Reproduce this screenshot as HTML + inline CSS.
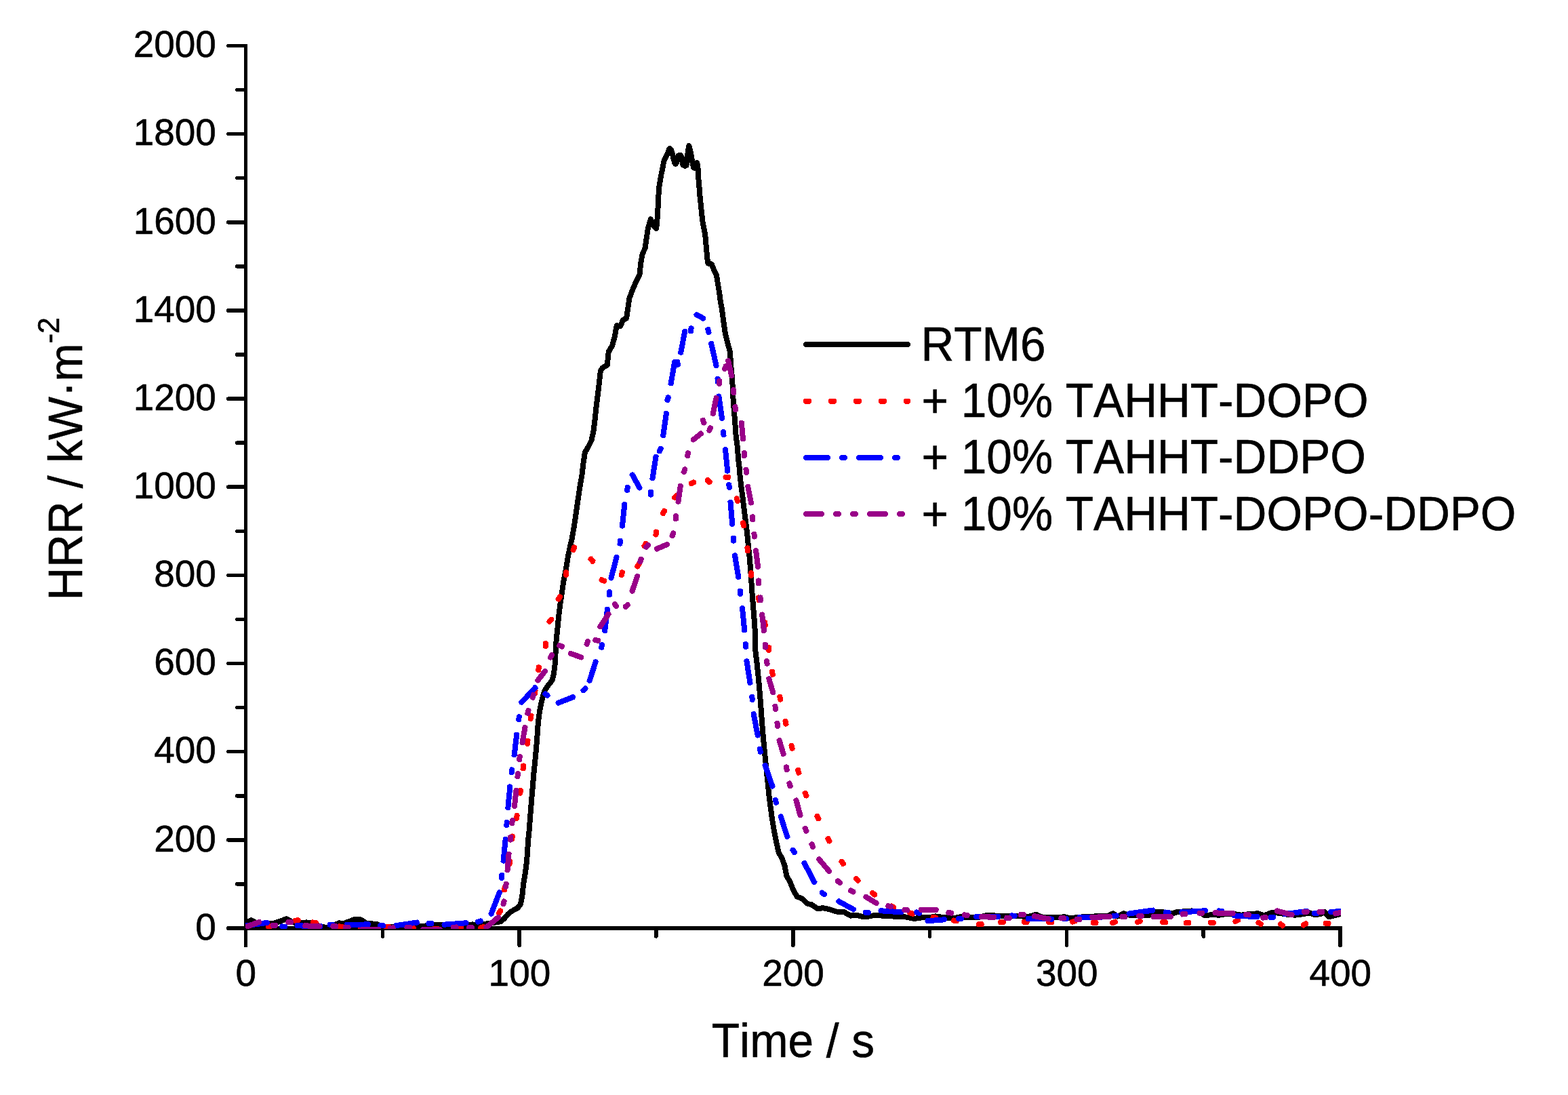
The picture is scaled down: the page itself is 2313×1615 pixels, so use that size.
<!DOCTYPE html>
<html lang="en">
<head>
<meta charset="utf-8">
<title>HRR vs Time</title>
<style>
html,body{margin:0;padding:0;background:#fff;}
body{width:2313px;height:1615px;}
svg{display:block;}
text{font-family:"Liberation Sans",sans-serif;fill:#000;stroke:#000;stroke-width:0.6px;font-kerning:none;}
.tick{font-size:55px;}
.lab{font-size:68px;}
.ax{stroke:#000;stroke-width:5.5;stroke-linecap:round;fill:none;}
.dat path, .dat polyline, .leg line{fill:none;stroke-width:8.0;stroke-linecap:round;stroke-linejoin:round;}
.dat path.bt, .leg line.bt{stroke-linecap:butt;}
</style>
</head>
<body>
<svg width="2313" height="1615" viewBox="0 0 2313 1615">
<rect width="2313" height="1615" fill="#fff"/>
<defs><clipPath id="plot"><rect x="362" y="60" width="1616" height="1310"/></clipPath></defs>

<g class="ax" shape-rendering="crispEdges">
<path d="M362.5 64.75 L362.5 1397 M362.5 1369.0 L1979.75 1369.0" stroke-linecap="butt"/>
<path d="M361.0 1369 L336.75 1369 M361.0 1303.9 L349.75 1303.9 M361.0 1238.8 L336.75 1238.8 M361.0 1173.8 L349.75 1173.8 M361.0 1108.7 L336.75 1108.7 M361.0 1043.6 L349.75 1043.6 M361.0 978.5 L336.75 978.5 M361.0 913.5 L349.75 913.5 M361.0 848.4 L336.75 848.4 M361.0 783.3 L349.75 783.3 M361.0 718.2 L336.75 718.2 M361.0 653.2 L349.75 653.2 M361.0 588.1 L336.75 588.1 M361.0 523 L349.75 523 M361.0 458 L336.75 458 M361.0 392.9 L349.75 392.9 M361.0 327.8 L336.75 327.8 M361.0 262.7 L349.75 262.7 M361.0 197.7 L336.75 197.7 M361.0 132.6 L349.75 132.6 M361.0 67.5 L336.75 67.5 M564.3 1370.5 L564.3 1381.0 M766.1 1370.5 L766.1 1394.25 M967.9 1370.5 L967.9 1381.0 M1169.8 1370.5 L1169.8 1394.25 M1371.6 1370.5 L1371.6 1381.0 M1573.4 1370.5 L1573.4 1394.25 M1775.2 1370.5 L1775.2 1381.0 M1977 1370.5 L1977 1394.25"/>
</g>
<g class="dat" clip-path="url(#plot)" shape-rendering="crispEdges">
<polyline stroke="#000" points="360.7,1361.4 365.2,1360.4 370.5,1357.1 377,1360.4 386.1,1362.1 401.8,1362.3 412.3,1359.1 422.7,1355.1 431.9,1360.4 443.6,1361.7 451.5,1360.4 460.6,1361.7 473.7,1366.9 482.8,1367.9 495.9,1363 500.5,1361.3 506.3,1362.3 522,1356.4 532.5,1356.4 540.3,1361.7 556,1363 563.8,1366.6 582.1,1366.6 599.1,1366.9 618.7,1367.9 627.9,1365.3 640.9,1364.3 651.4,1364.3 617,1366 628.7,1366 640.5,1364.3 651,1364.3 658.8,1365.3 691.5,1364.3 696.7,1363.4 703.2,1365.3 712.4,1363.4 724.1,1361.4 732,1360.4 738.5,1359.1 743.7,1354.9 749,1348.6 754.2,1344.2 763.3,1339.5 767.6,1334.2 769.8,1324.7 771.1,1314.9 772,1305.1 773.5,1295.4 775.1,1285.6 776.7,1273.4 777.8,1261.1 778.5,1248.9 779.4,1236.7 780.3,1229 781.6,1211.5 783,1194.1 784.4,1176.6 785.9,1159.1 787.3,1141.7 789.1,1124.2 790.8,1106.7 792.2,1089.3 793.4,1071.8 794.8,1057.8 796.9,1043.8 800.1,1029.9 803.1,1019.4 807.4,1012.4 814.4,1003.7 817,993.2 819,977.5 819.6,962 820.6,944.5 822.4,927.1 824.1,909.6 826.2,892.1 828.8,874.7 831.4,857.2 834.9,839.7 837.6,822.3 840.5,808.3 843.7,794.3 846.8,776.9 849.4,759.4 852.4,738.4 855.5,717.5 858.5,700.3 860.3,684.5 862.9,667.1 867.2,660.1 872.5,649.6 875.5,635.6 877.7,618.2 879.5,600.7 881.7,583.2 883.8,565.8 885.9,546.6 889.1,542.2 895.7,538.7 897.8,518.6 903.1,509.9 906.9,495.9 909.7,480.2 915.3,481 918.8,472.3 924,469.7 926.1,455.7 928.4,440 932.8,428 939.7,412.3 943.6,404.5 945,389.6 947.6,374.8 951.6,366 953.7,351.2 955.8,337.2 959.8,323.2 963.3,332 968.2,337.2 969.4,325 969.9,315.8 970.7,304 971.2,292.2 971.9,280.4 972.7,272.5 974.2,264.7 975.4,257.6 976.8,251.3 978,245 979.1,238.7 980.4,234.8 982.9,230.1 985.2,225.4 986.8,220.7 988,218.9 990,221.4 991.9,226.9 993.5,234 995.1,240.3 996.6,242 998.6,238.7 999.8,232.4 1001,229.3 1002.5,228.9 1004.5,229.3 1005.7,232.4 1006.5,238.7 1007.6,243.5 1010.4,244.9 1012.4,244.2 1013.5,237.2 1014.2,229.3 1015,221.4 1016.3,215 1018.1,221.4 1019.4,227.7 1020.6,234.8 1021.8,241.1 1023,246.6 1024.5,248 1026.5,245 1028.3,240.1 1029.3,245 1029.8,252.9 1030.2,260.7 1030.8,268.6 1031.5,276.5 1032,284.3 1032.8,292.2 1033.6,300 1034.4,307.9 1035.2,315.8 1036.7,328.5 1040.2,345.9 1041.9,365.2 1043.7,384.4 1044.5,388.7 1049.8,389.6 1053.3,398.3 1056.8,405.3 1058.5,415.8 1061.1,431.5 1062.9,445.5 1064.6,454 1067.2,473.2 1069.9,492.4 1073.4,506.4 1076.9,518.6 1078.1,537.8 1079.8,555.3 1080.9,572.8 1081.6,590.2 1083,607.7 1084.4,625.2 1085.6,642.6 1087.9,660.1 1089.1,677.6 1091.4,695 1091.4,700 1093.4,717.5 1095.7,734.9 1097.8,752.4 1100.1,769.9 1102.2,787.3 1103.9,804.8 1105.7,822.3 1107.1,839.7 1108.3,857.2 1109.5,874.7 1110.9,892.1 1112.3,909.6 1113.5,927.1 1114.4,944.5 1114.4,960 1116.5,977.5 1118.3,994.9 1120,1012.4 1121.4,1029.9 1122.8,1047.3 1124,1064.8 1125.4,1082.3 1127,1099.7 1128.7,1117.2 1130.5,1134.7 1132.6,1154.9 1134.3,1172.4 1136.6,1189.9 1138.9,1207.3 1141.8,1224.8 1145.3,1242.3 1148.8,1258 1153.2,1265 1157.6,1277.2 1160.2,1291.2 1165.8,1301.7 1170.7,1313.9 1175.9,1322.6 1182.9,1325.2 1191.6,1333.1 1196.9,1334 1205.6,1340.1 1214.3,1339.2 1223.1,1341 1233.5,1344.5 1244,1344.5 1254.5,1350.6 1263.2,1349.7 1273.7,1352.3 1282.4,1351.4 1291.2,1349.7 1301.7,1350.6 1312.1,1350.6 1322.6,1352.3 1334.8,1352.3 1348.8,1354.9 1361,1353.2 1371.5,1353.2 1380.3,1351.4 1392.5,1353.2 1406.5,1354.1 1416.9,1352.3 1434.4,1353.2 1443.1,1353.2 1457.1,1349.7 1469.3,1350.6 1478.1,1351.4 1499.6,1350.7 1516.6,1352.3 1528.3,1348.6 1537.5,1352.9 1561,1352.9 1570.2,1352.3 1579.3,1354.2 1595,1352.5 1613.3,1351.6 1623.7,1350.6 1634.2,1350.6 1642,1347.3 1648.6,1351.6 1657.7,1347.3 1668.2,1350.3 1694.3,1350.3 1704.7,1345.3 1715.2,1345.3 1728.3,1347.7 1736.1,1345.1 1758.3,1343.4 1767.5,1344.4 1777.5,1350.3 1787.9,1349 1798.4,1349.7 1811.5,1347.7 1821.9,1348.3 1831.1,1349.7 1840.2,1348.3 1848.1,1348.3 1854.6,1347 1865,1350.3 1876.8,1345.7 1888.6,1347 1900.3,1349 1910.8,1349.7 1921.2,1348.3 1931.7,1346.4 1939.5,1349 1947.4,1348.3 1953.9,1345.1 1960.4,1352.3 1968.3,1350.3 1979.4,1347.7"/>
<path d="M395.9 1366.4 L399.8 1365.6 M435.8 1357.7 L439.7 1357.3 M461.9 1360.5 L465.9 1361 M500.4 1366.4 L504.4 1366.8 M531.8 1367.9 L535.8 1368 M569.7 1367.3 L573.7 1367.3 M606.3 1369.2 L610.3 1369.3 M641 1369.5 L645 1369.5 M676.4 1368.7 L680.4 1368.5 M709.2 1368.4 L712.9 1366.9 M736.2 1346.8 L738.2 1343.4 M744 1312.4 L744.8 1308.5 M751.6 1274.1 L752.2 1270.2 M755.2 1237.4 L755.8 1233.5 M761.9 1206.9 L762.6 1202.9 M767.3 1169.8 L767.9 1165.9 M771.7 1133.5 L772.2 1129.5 M777.8 1096.8 L778.4 1092.9 M782.7 1059.8 L783.3 1055.8 M788.8 1023.1 L789.4 1019.2 M794.1 988.2 L794.9 984.2 M804.7 953 L804.7 949 M810.5 916.6 L813.3 913.8 M823.8 883.7 L825.8 880.3 M834.8 847.8 L835.1 843.9 M845.6 811.2 L847 807.5 M874.3 827.6 L871.7 824.6 M891.2 856.8 L887.6 855.1 M916.9 848.1 L917.9 844.3 M940.3 835.3 L942.6 832 M950.6 805.2 L952.6 801.7 M967.5 788.5 L967.9 784.5 M978 757.1 L980 753.6 M995.1 733.7 L997.9 730.9 M1019.7 713.1 L1023.3 711.4 M1046.5 711 L1043.7 708.2 M1070.5 703.5 L1074.5 703.5 M1088 738.9 L1086.7 735.2 M1097.1 775.3 L1096.1 771.4 M1102.9 812.4 L1102.5 808.4 M1108.1 849.1 L1107.8 845.1 M1118.8 881.5 L1119.8 885.3 M1128 918.1 L1128.8 922 M1134.1 958.8 L1133.8 954.8 M1138.9 990.7 L1139.8 994.6 M1150.2 1027.6 L1151.3 1031.5 M1158.5 1063.7 L1159.4 1067.6 M1167.5 1099.9 L1168.5 1103.8 M1177.1 1135.9 L1178.2 1139.7 M1187.9 1169.9 L1189.4 1173.5 M1205.6 1203.8 L1207.4 1207.4 M1221.6 1237 L1223.5 1240.5 M1241.5 1270.7 L1243.8 1273.9 M1262.7 1295.9 L1265.5 1298.7 M1287 1317 L1290.1 1319.5 M1314.7 1336.6 L1318.3 1338.4 M1342.5 1346.6 L1346.4 1347.6 M1376.5 1352.9 L1380.5 1353.5 M1407.1 1357.6 L1411.1 1358.2 M1443.8 1363.3 L1447.8 1363.4 M1476.1 1360.3 L1480.1 1360.1 M1510.7 1359.5 L1514.7 1359.5 M1547.3 1360.1 L1551.3 1360.1 M1582 1359.7 L1585.8 1358.4 M1612.6 1360.7 L1616.6 1360.8 M1641.2 1361.1 L1645 1359.7 M1678 1360.1 L1681.8 1358.8 M1715.2 1360.3 L1719.2 1360.4 M1749.5 1361.4 L1753.5 1361.4 M1785.9 1360.8 L1789.9 1360.8 M1822.4 1359.1 L1825.9 1357.1 M1859.8 1362.8 L1856.4 1360.8 M1892.2 1365.2 L1888.9 1362.9 M1922.8 1364.4 L1926.2 1362.4 M1955.6 1361.7 L1959.6 1361.7" stroke="#ff0000"/>
<path d="M394 1366.8 L401.8 1365.2 M433.8 1357.8 L441.7 1357.2 M459.9 1360.2 L467.8 1361.3 M498.4 1366.2 L506.4 1367 M529.8 1367.9 L537.8 1368 M567.7 1367.2 L575.7 1367.4 M604.3 1369.1 L612.3 1369.4 M639 1369.5 L647 1369.5 M674.4 1368.7 L682.4 1368.5 M707.4 1369.2 L714.8 1366.2 M735.2 1348.5 L739.2 1341.6 M743.6 1314.4 L745.2 1306.5 M751.3 1276.1 L752.5 1268.2 M754.9 1239.4 L756.2 1231.5 M761.6 1208.8 L763 1201 M767.1 1171.8 L768.1 1163.9 M771.4 1135.5 L772.5 1127.6 M777.5 1098.8 L778.7 1090.9 M782.4 1061.8 L783.6 1053.9 M788.4 1025.1 L789.7 1017.2 M793.6 990.1 L795.4 982.3 M804.7 955 L804.7 947 M809 918 L814.7 912.4 M822.8 885.5 L826.8 878.5 M834.6 849.8 L835.3 841.9 M844.9 813.1 L847.7 805.6 M875.6 829.2 L870.4 823 M893.1 857.7 L885.8 854.3 M916.3 850.1 L918.4 842.3 M939.2 836.9 L943.8 830.3 M949.7 806.9 L953.6 799.9 M967.3 790.4 L968 782.5 M977 758.8 L981 751.9 M993.7 735.2 L999.3 729.5 M1017.9 713.9 L1025.1 710.5 M1047.9 712.4 L1042.2 706.8 M1068.5 703.5 L1076.5 703.5 M1088.7 740.8 L1086 733.3 M1097.6 777.2 L1095.6 769.5 M1103.1 814.4 L1102.4 806.4 M1108.3 851.1 L1107.6 843.1 M1118.2 879.6 L1120.4 887.3 M1127.6 916.2 L1129.2 924 M1134.3 960.8 L1133.6 952.8 M1138.5 988.8 L1140.3 996.6 M1149.7 1025.7 L1151.8 1033.4 M1158 1061.8 L1159.9 1069.6 M1167 1098 L1169 1105.7 M1176.5 1134 L1178.8 1141.7 M1187.1 1168 L1190.2 1175.4 M1204.7 1202 L1208.3 1209.2 M1220.6 1235.3 L1224.4 1242.3 M1240.3 1269.1 L1244.9 1275.6 M1261.3 1294.5 L1266.9 1300.1 M1285.4 1315.8 L1291.7 1320.7 M1313 1335.6 L1320.1 1339.3 M1340.6 1346.1 L1348.3 1348.1 M1374.6 1352.5 L1382.5 1353.8 M1405.1 1357.3 L1413 1358.5 M1441.8 1363.2 L1449.8 1363.5 M1474.1 1360.4 L1482.1 1359.9 M1508.7 1359.5 L1516.7 1359.5 M1545.3 1360.1 L1553.3 1360.1 M1580.1 1360.4 L1587.6 1357.7 M1610.6 1360.7 L1618.6 1360.8 M1639.3 1361.7 L1646.8 1359 M1676.2 1360.8 L1683.7 1358.1 M1713.2 1360.3 L1721.2 1360.5 M1747.5 1361.4 L1755.5 1361.4 M1783.9 1360.8 L1791.9 1360.8 M1820.7 1360.1 L1827.6 1356.1 M1861.6 1363.8 L1854.7 1359.8 M1893.8 1366.3 L1887.2 1361.7 M1921 1365.4 L1928 1361.4 M1953.6 1361.7 L1961.6 1361.7" stroke="#ff0000" class="bt"/>
<path d="M363.2 1365.2 L394 1360.9 M416.2 1366.4 L420.1 1366.9 M438.4 1365.4 L472.4 1366 M486.7 1363.9 L490.7 1363.7 M511.6 1364 L542.9 1363.4 M561.2 1365.2 L565.2 1365.4 M584.7 1365.1 L614.8 1360.6 M632.4 1361.9 L636.4 1362.2 M655.5 1363.7 L687.6 1361.3 M705 1359.7 L708.8 1358.4 M724.6 1347.8 L736.7 1316.2 M739.8 1294.9 L740.2 1290.9 M742.6 1269.6 L745.6 1238 M747.4 1216.9 L747.7 1212.9 M749.4 1191 L752.3 1160.4 M754.7 1139.3 L755.3 1135.3 M758.7 1113.3 L762.2 1083.6 M765.2 1061.2 L765.8 1057.2 M769.4 1035.9 L789.4 1014.2 M804.4 1023.4 L807.6 1025.8 M823.5 1036.7 L845 1028.2 M860.5 1018.2 L863.4 1015.4 M869.8 1003.8 L878.6 976.1 M887.3 954.9 L888 951 M892.2 930.1 L895.9 898.7 M898.9 877.2 L899.2 873.2 M901.6 852.5 L909.4 821.8 M914.6 801.6 L914.9 797.6 M918 775.6 L921.3 744.1 M925.1 722.9 L925.8 719 M932.9 700.3 L943.5 719.5 M959.7 729.6 L960 725.6 M962.6 705.1 L967.5 673.6 M972.8 665.3 L974.8 661.8 M978.3 642.2 L982.9 609.8 M984.5 590 L985.8 586.2 M989.7 565.4 L995.1 534.2 M999.8 537.7 L999.1 533.8 M1004.3 519.9 L1010.2 488.8 M1018.9 488.3 L1019.6 484.3 M1027.4 464.2 L1037.3 469.4 M1045.4 490 L1044.4 486.1 M1049.2 506.8 L1056.5 539.2 M1058.5 562.5 L1058.5 558.5 M1060.4 584.5 L1065 616.9 M1067.4 641.1 L1067.1 637.1 M1070 663.1 L1073.2 694.6 M1076.2 718.9 L1075.1 715 M1077.5 740.6 L1080.2 772.9 M1082.3 797.7 L1081.9 793.7 M1084.1 819.2 L1089.2 851 M1092.2 875.8 L1091.9 871.8 M1095 896.9 L1098.2 929.3 M1100.3 953.9 L1099.9 949.9 M1101.5 975.3 L1106.4 1006.8 M1109.3 1027.9 L1109.7 1031.9 M1111.7 1053 L1117.7 1084.5 M1120.9 1104.8 L1121.9 1108.7 M1128.8 1128.9 L1139.3 1159.6 M1143.9 1179.9 L1145 1183.8 M1151.8 1204.4 L1161.2 1233.9 M1169.5 1253.7 L1171.8 1257 M1186.6 1273.1 L1201.1 1300.9 M1212.7 1316.7 L1215.9 1319.1 M1237.3 1329.4 L1258.9 1341.2 M1277 1345.6 L1281 1345.8 M1299.5 1343.3 L1329.2 1345.2 M1352.2 1345.5 L1355.9 1346.9 M1368.5 1358.3 L1392.9 1356.3 M1414.1 1355.1 L1418.1 1354.7 M1440.1 1352 L1472.4 1352 M1492.7 1350.4 L1496.7 1350.7 M1516.6 1354.7 L1551.2 1355.5 M1568.8 1355 L1572.8 1354.8 M1592.4 1353.3 L1623.7 1353.3 M1642.9 1351 L1646.9 1350.4 M1665.5 1347.5 L1700.2 1342.6 M1719.7 1345.6 L1723.7 1345.9 M1743.3 1345.4 L1777.9 1343.2 M1798.4 1343.4 L1802.3 1344.1 M1820.6 1350.4 L1854.6 1352.2 M1874.2 1353.1 L1878.1 1352.7 M1895.1 1348.2 L1927.8 1343.9 M1938.8 1347 L1942.8 1347.1 M1963 1345 L1980 1343.9" stroke="#0000ff"/>
<path d="M361.3 1365.4 L396 1360.7 M414.2 1366.2 L422.1 1367.1 M436.4 1365.3 L474.4 1366 M484.7 1364 L492.7 1363.6 M509.6 1364 L544.9 1363.4 M559.2 1365.1 L567.2 1365.5 M582.7 1365.4 L616.8 1360.3 M630.4 1361.7 L638.4 1362.4 M653.5 1363.8 L689.6 1361.1 M703.1 1360.4 L710.7 1357.8 M723.9 1349.7 L737.5 1314.4 M739.5 1296.9 L740.5 1288.9 M742.4 1271.6 L745.8 1236 M747.3 1218.9 L747.9 1210.9 M749.2 1193 L752.5 1158.4 M754.5 1141.3 L755.6 1133.3 M758.4 1115.3 L762.4 1081.6 M765 1063.2 L766 1055.2 M768 1037.4 L790.8 1012.8 M802.8 1022.2 L809.2 1027 M821.6 1037.5 L846.9 1027.5 M859.1 1019.6 L864.8 1014 M869.2 1005.7 L879.3 974.2 M887 956.9 L888.4 949 M892 932.1 L896.2 896.7 M898.7 879.2 L899.4 871.2 M901.1 854.4 L909.9 819.8 M914.4 803.5 L915.1 795.6 M917.8 777.6 L921.5 742.1 M924.7 724.9 L926.1 717 M931.9 698.5 L944.4 721.2 M959.5 731.6 L960.2 723.6 M962.3 707.1 L967.8 671.6 M971.8 667 L975.8 660.1 M978.1 644.2 L983.2 607.9 M983.9 591.9 L986.4 584.3 M989.4 567.3 L995.4 532.2 M1000.2 539.7 L998.8 531.8 M1003.9 521.9 L1010.6 486.8 M1018.5 490.2 L1019.9 482.3 M1025.6 463.3 L1039 470.4 M1045.9 491.9 L1043.9 484.2 M1048.8 504.8 L1056.9 541.1 M1058.5 564.5 L1058.5 556.5 M1060.2 582.5 L1065.2 618.9 M1067.6 643.1 L1066.9 635.1 M1069.8 661.1 L1073.4 696.6 M1076.7 720.8 L1074.6 713.1 M1077.3 738.6 L1080.4 774.9 M1082.4 799.7 L1081.7 791.7 M1083.7 817.2 L1089.5 853 M1092.4 877.8 L1091.7 869.8 M1094.8 894.9 L1098.4 931.3 M1100.4 955.9 L1099.7 947.9 M1101.2 973.3 L1106.7 1008.7 M1109.1 1025.9 L1110 1033.8 M1111.3 1051 L1118 1086.5 M1120.4 1102.8 L1122.4 1110.6 M1128.2 1127 L1140 1161.5 M1143.4 1178 L1145.5 1185.7 M1151.2 1202.5 L1161.8 1235.8 M1168.4 1252 L1172.9 1258.7 M1185.7 1271.3 L1202.1 1302.6 M1211.2 1315.5 L1217.5 1320.4 M1235.5 1328.4 L1260.7 1342.2 M1275 1345.5 L1282.9 1345.8 M1297.5 1343.2 L1331.2 1345.4 M1350.3 1344.9 L1357.8 1347.5 M1366.5 1358.5 L1394.9 1356.1 M1412.1 1355.3 L1420.1 1354.6 M1438.1 1352 L1474.4 1352 M1490.7 1350.3 L1498.7 1350.8 M1514.6 1354.6 L1553.2 1355.6 M1566.8 1355.1 L1574.8 1354.7 M1590.4 1353.3 L1625.7 1353.3 M1640.9 1351.3 L1648.9 1350.1 M1663.5 1347.8 L1702.2 1342.4 M1717.7 1345.4 L1725.7 1346 M1741.3 1345.5 L1779.9 1343.1 M1796.4 1343.1 L1804.3 1344.5 M1818.6 1350.3 L1856.6 1352.3 M1872.2 1353.3 L1880.1 1352.5 M1893.1 1348.4 L1929.8 1343.7 M1936.8 1346.9 L1944.8 1347.2 M1961 1345.1 L1982 1343.7" stroke="#0000ff" class="bt"/>
<path d="M365.1 1366.2 L382.3 1359.9 M402.4 1364.6 L406.4 1364.7 M425.3 1360.3 L429.3 1360.4 M450.2 1365.4 L471.1 1366 M491.3 1365.9 L495.3 1366.1 M509.6 1367.7 L513.6 1368.2 M533.8 1371.2 L558.6 1371.2 M575.6 1368.8 L579.6 1368.4 M600.4 1367.8 L604.4 1368.1 M623.9 1371.2 L648.8 1371.2 M668.6 1367.8 L672.6 1367.5 M692.1 1367.9 L696.1 1368 M717.3 1367.8 L734.9 1353.1 M742.6 1333.3 L743.5 1329.4 M746.1 1307.9 L746.6 1303.9 M748.6 1283.1 L750.5 1260 M752.9 1238.7 L753.3 1234.7 M755.3 1214 L755.8 1210 M759 1188.9 L761.4 1166 M763.5 1145 L764 1141.1 M766.1 1120.1 L766.7 1116.1 M770.6 1095 L774.4 1073.1 M778.4 1051.9 L779.5 1048 M785.9 1028.6 L787 1024.8 M793.4 1003.5 L804 989.8 M812 969.6 L814.1 966.2 M829 953.4 L825.2 952.1 M841.7 963.8 L857.3 969.4 M865.7 949.9 L867.1 946.2 M882.3 944.9 L878.4 944.2 M885.4 924.2 L897.5 905.8 M909.2 894 L906.7 891 M922.8 894.8 L925.9 892.3 M932.6 871.7 L940.2 849.7 M944.3 828.5 L945.7 824.8 M953.3 806.9 L955.9 803.8 M968.9 809.5 L984 803 M991.8 790.1 L993.2 786.3 M996.9 765.2 L997.2 761.2 M1000.5 739.8 L1003.7 717 M1008.9 696 L1010.3 692.3 M1014 672.2 L1015 668.3 M1022.8 648.4 L1033.9 639.6 M1038.4 623.5 L1036.7 619.8 M1046.3 634.8 L1048 631.2 M1051.8 609.9 L1056.5 587.1 M1061 566 L1061.3 562 M1069.1 544 L1070.6 540.3 M1074.2 532.4 L1079.2 554 M1082.3 579.1 L1081.9 575.1 M1085.1 604.1 L1084.4 600.1 M1093.9 623.8 L1096 647.4 M1098 672.2 L1097.6 668.2 M1101 697 L1100.6 693 M1103.3 717.9 L1108 741.5 M1110.2 766.3 L1109.9 762.3 M1112.8 791.6 L1112.5 787.6 M1115.1 812.2 L1118.1 835.8 M1119.3 860.4 L1119 856.4 M1121.9 885.4 L1121.6 881.4 M1124.2 906.5 L1127 930.2 M1129.1 954.7 L1128.7 950.8 M1131.1 975 L1131.6 978.9 M1134.3 1001.1 L1140.2 1021.3 M1143.5 1041.9 L1144 1045.8 M1146.5 1066.8 L1147 1070.8 M1149.7 1092.3 L1155.6 1112.1 M1159.9 1131.5 L1160.8 1135.4 M1164.5 1155.5 L1165.6 1159.3 M1174.5 1180.5 L1180.4 1202.4 M1187.9 1221.9 L1189.4 1225.6 M1197.5 1245.2 L1199.1 1248.8 M1208.2 1267.4 L1223.1 1284.9 M1235.9 1299.5 L1238.9 1302.1 M1255 1313.5 L1258.5 1315.4 M1277.4 1322.8 L1292.7 1332.1 M1310.2 1336.2 L1314.1 1337 M1334.3 1342 L1338.2 1342.4 M1358.9 1341.8 L1380.7 1341.8 M1399.3 1345.8 L1403.2 1346.6 M1422.8 1349.4 L1426.8 1350 M1447.9 1352.3 L1466.3 1352.6 M1484.8 1354.2 L1488.8 1353.9 M1505.8 1349.3 L1509.8 1349 M1525.7 1351.2 L1546.7 1355.3 M1565.3 1354.2 L1569.3 1354.2 M1588.4 1356 L1592.4 1355.9 M1611.3 1352.6 L1636.8 1352.3 M1655.4 1352.3 L1659.4 1352.2 M1679.9 1351 L1683.9 1350.9 M1701.5 1351.9 L1727 1352.2 M1744.6 1348.3 L1748.5 1347.8 M1769.4 1346.7 L1773.4 1346.6 M1792.5 1346.4 L1818.7 1347 M1838 1348.7 L1841.9 1349.3 M1863.1 1353.6 L1867 1353 M1883.9 1343.5 L1905.6 1349.3 M1923.8 1345 L1927.8 1344.6 M1946.4 1344.9 L1950.4 1345.2 M1970.2 1347.4 L1980.1 1345.3" stroke="#990088"/>
<path d="M363.3 1366.9 L384.2 1359.2 M400.4 1364.6 L408.4 1364.8 M423.3 1360.3 L431.3 1360.4 M448.2 1365.3 L473.1 1366 M489.3 1365.8 L497.3 1366.2 M507.6 1367.4 L515.5 1368.5 M531.8 1371.2 L560.6 1371.2 M573.6 1368.9 L581.5 1368.3 M598.4 1367.7 L606.4 1368.2 M621.9 1371.2 L650.8 1371.2 M666.6 1368 L674.5 1367.4 M690.1 1367.9 L698.1 1368 M715.8 1369 L736.4 1351.8 M742.2 1335.3 L744 1327.5 M745.9 1309.9 L746.8 1301.9 M748.4 1285.1 L750.7 1258 M752.7 1240.7 L753.5 1232.7 M755 1216 L756 1208 M758.8 1190.9 L761.6 1164 M763.3 1147 L764.2 1139.1 M765.8 1122 L766.9 1114.1 M770.3 1096.9 L774.7 1071.1 M777.9 1053.8 L780 1046.1 M785.3 1030.6 L787.6 1022.9 M792.1 1005.1 L805.2 988.3 M810.9 971.3 L815.1 964.5 M830.8 954.1 L823.3 951.4 M839.9 963.2 L859.2 970.1 M865 951.8 L867.7 944.3 M884.3 945.2 L876.4 943.8 M884.3 925.9 L898.5 904.1 M910.5 895.6 L905.4 889.4 M921.3 896.1 L927.4 891 M932 873.6 L940.8 847.8 M943.6 830.4 L946.3 822.9 M952 808.4 L957.2 802.3 M967 810.3 L985.8 802.3 M991.1 792 L993.9 784.5 M996.7 767.2 L997.4 759.2 M1000.3 741.7 L1003.9 715 M1008.2 697.9 L1011 690.4 M1013.5 674.1 L1015.5 666.4 M1021.3 649.7 L1035.5 638.3 M1039.2 625.3 L1035.9 618 M1045.5 636.6 L1048.9 629.4 M1051.4 611.9 L1056.9 585.2 M1060.8 568 L1061.5 560 M1068.4 545.9 L1071.3 538.5 M1073.7 530.5 L1079.6 556 M1082.4 581.1 L1081.7 573.1 M1085.4 606 L1084 598.2 M1093.7 621.8 L1096.1 649.4 M1098.2 674.2 L1097.5 666.2 M1101.1 699 L1100.4 691 M1102.9 715.9 L1108.4 743.5 M1110.4 768.3 L1109.7 760.3 M1113 793.6 L1112.3 785.6 M1114.8 810.2 L1118.3 837.8 M1119.5 862.4 L1118.8 854.4 M1122.1 887.4 L1121.4 879.4 M1123.9 904.5 L1127.2 932.1 M1129.3 956.7 L1128.6 948.8 M1130.9 973 L1131.8 980.9 M1133.8 999.2 L1140.8 1023.2 M1143.2 1039.9 L1144.3 1047.8 M1146.3 1064.8 L1147.2 1072.8 M1149.1 1090.3 L1156.2 1114 M1159.5 1129.5 L1161.2 1137.4 M1163.9 1153.6 L1166.2 1161.2 M1174 1178.5 L1181 1204.3 M1187.2 1220 L1190.1 1227.5 M1196.6 1243.3 L1199.9 1250.7 M1206.9 1265.8 L1224.4 1286.5 M1234.4 1298.2 L1240.4 1303.4 M1253.3 1312.5 L1260.3 1316.3 M1275.7 1321.7 L1294.4 1333.1 M1308.2 1335.7 L1316 1337.5 M1332.3 1341.7 L1340.2 1342.6 M1356.9 1341.8 L1382.7 1341.8 M1397.3 1345.5 L1405.2 1346.9 M1420.8 1349.2 L1428.8 1350.2 M1445.9 1352.3 L1468.3 1352.7 M1482.8 1354.4 L1490.8 1353.7 M1503.8 1349.5 L1511.8 1348.8 M1523.7 1350.8 L1548.6 1355.7 M1563.3 1354.2 L1571.3 1354.3 M1586.4 1356.1 L1594.4 1355.8 M1609.3 1352.7 L1638.8 1352.3 M1653.4 1352.4 L1661.4 1352.1 M1677.9 1351 L1685.9 1350.9 M1699.5 1351.9 L1729 1352.3 M1742.6 1348.6 L1750.5 1347.6 M1767.4 1346.8 L1775.4 1346.5 M1790.5 1346.4 L1820.7 1347.1 M1836 1348.4 L1843.9 1349.6 M1861.1 1353.9 L1869 1352.8 M1882 1342.9 L1907.5 1349.8 M1921.8 1345.3 L1929.8 1344.4 M1944.4 1344.8 L1952.4 1345.3 M1968.2 1347.8 L1982 1344.9" stroke="#990088" class="bt"/>
</g>
<g class="tick">
<text transform="translate(318.8 1385.7) scale(1.0 1)" font-size="54.9" text-anchor="end">0</text>
<text transform="translate(318.8 1255.5) scale(1.0 1)" font-size="54.9" text-anchor="end">200</text>
<text transform="translate(318.8 1125.4) scale(1.0 1)" font-size="54.9" text-anchor="end">400</text>
<text transform="translate(318.8 995.2) scale(1.0 1)" font-size="54.9" text-anchor="end">600</text>
<text transform="translate(318.8 865.1) scale(1.0 1)" font-size="54.9" text-anchor="end">800</text>
<text transform="translate(318.8 735) scale(1.0 1)" font-size="54.9" text-anchor="end">1000</text>
<text transform="translate(318.8 604.8) scale(1.0 1)" font-size="54.9" text-anchor="end">1200</text>
<text transform="translate(318.8 474.7) scale(1.0 1)" font-size="54.9" text-anchor="end">1400</text>
<text transform="translate(318.8 344.5) scale(1.0 1)" font-size="54.9" text-anchor="end">1600</text>
<text transform="translate(318.8 214.4) scale(1.0 1)" font-size="54.9" text-anchor="end">1800</text>
<text transform="translate(318.8 84.2) scale(1.0 1)" font-size="54.9" text-anchor="end">2000</text>
<text transform="translate(362.8 1454) scale(1.0 1)" font-size="54.9" text-anchor="middle">0</text>
<text transform="translate(766.4 1454) scale(1.0 1)" font-size="54.9" text-anchor="middle">100</text>
<text transform="translate(1170 1454) scale(1.0 1)" font-size="54.9" text-anchor="middle">200</text>
<text transform="translate(1573.7 1454) scale(1.0 1)" font-size="54.9" text-anchor="middle">300</text>
<text transform="translate(1977.3 1454) scale(1.0 1)" font-size="54.9" text-anchor="middle">400</text>
</g>
<g class="lab">
<text transform="translate(1170 1559) scale(0.9616 1)" font-size="70.3" text-anchor="middle">Time / s</text>
<text transform="translate(121 885.5) rotate(-90) scale(0.9616 1)" font-size="70.3">HRR / kW·m<tspan dy="-34" font-size="44.5">-2</tspan></text>
</g>
<g class="dat" shape-rendering="crispEdges">
<path d="M1189 508 L1339 508" stroke="#000"/>
<path d="M1187 508 L1341 508" stroke="#000" class="bt"/>
<path d="M1189 591.5 L1193 591.5 M1226 591.5 L1230 591.5 M1263 591.5 L1267 591.5 M1300 591.5 L1304 591.5 M1337 591.5 L1339.2 591.5" stroke="#ff0000"/>
<path d="M1187 591.5 L1195 591.5 M1224 591.5 L1232 591.5 M1261 591.5 L1269 591.5 M1298 591.5 L1306 591.5 M1335 591.5 L1341.2 591.5" stroke="#ff0000" class="bt"/>
<path d="M1189 675 L1221 675 M1242 675 L1246 675 M1267 675 L1299 675 M1320 675 L1324 675" stroke="#0000ff"/>
<path d="M1187 675 L1223 675 M1240 675 L1248 675 M1265 675 L1301 675 M1318 675 L1326 675" stroke="#0000ff" class="bt"/>
<path d="M1189 758 L1212 758 M1233 758 L1237 758 M1258 758 L1262 758 M1283 758 L1306 758 M1327 758 L1331 758" stroke="#990088"/>
<path d="M1187 758 L1214 758 M1231 758 L1239 758 M1256 758 L1264 758 M1281 758 L1308 758 M1325 758 L1333 758" stroke="#990088" class="bt"/>
</g>
<g class="lab">
<text transform="translate(1358.5 532) scale(0.9616 1)" font-size="70.3" text-anchor="start">RTM6</text>
<text transform="translate(1359.5 615.2) scale(0.9616 1)" font-size="70.3" text-anchor="start">+ 10% TAHHT-DOPO</text>
<text transform="translate(1359.5 698.3) scale(0.9616 1)" font-size="70.3" text-anchor="start">+ 10% TAHHT-DDPO</text>
<text transform="translate(1359.5 781.7) scale(0.9616 1)" font-size="70.3" text-anchor="start">+ 10% TAHHT-DOPO-DDPO</text>
</g>
</svg>
</body>
</html>
